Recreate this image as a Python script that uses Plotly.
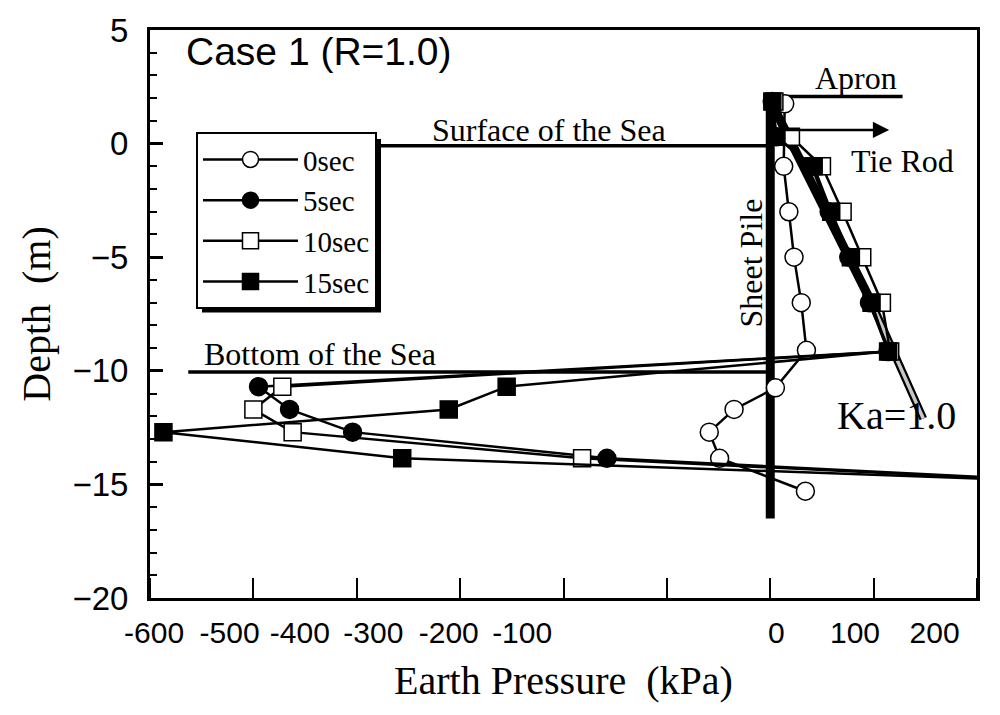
import plotly.graph_objects as go

# ---------------- data ----------------
depth_0sec = [1.75, -1.0, -3.0, -5.0, -7.0, -9.1, -10.75, -11.7, -12.7, -13.85, -15.3]
pressure_0sec = [14, 13, 18, 23, 30, 35, 5, -35, -59, -49, 34]

depth_levels = [1.85, 0.3, -1.0, -3.0, -5.0, -7.0, -9.15, -10.7, -11.7, -12.7, -13.85, -15.3]
pressure_5sec = [2, 6, 40, 57, 76, 96, 114, -495, -465, -404, -158, 480]
pressure_10sec = [4, 20, 50, 70, 89, 108, 116, -472, -500, -462, -182, 470]
pressure_15sec = [2, 6, 42, 59, 78, 98, 114, -255, -311, -587, -356, 555]

ka_pressure = [0, 98, 148]
ka_depth = [1.9, -7.0, -12.1]

pile_pressure = [0, 0]
pile_depth = [2.0, -16.5]
apron_pressure = [0, 128]
apron_depth = [2.07, 2.07]
surface_pressure = [-380, 0]
surface_depth = [-0.1, -0.1]
bottom_pressure = [-563, 0]
bottom_depth = [-10.05, -10.05]

x_tick_label_pos = [-596, -523, -455, -384, -311, -240, 6, 82, 159]
x_tick_text = ["-600", "-500", "-400", "-300", "-200", "-100", "0", "100", "200"]
y_tick_vals = [-20, -15, -10, -5, 0, 5]

SERIF = "Liberation Serif"
SANS = "Liberation Sans"

fig = go.Figure()

# sheet pile
fig.add_trace(go.Scatter(x=pile_pressure, y=pile_depth, mode="lines",
                         line=dict(color="black", width=9), showlegend=False, hoverinfo="skip"))
# Ka line (solid upper part, hatched lower part)
fig.add_trace(go.Scatter(x=ka_pressure[:2], y=ka_depth[:2], mode="lines",
                         line=dict(color="black", width=9), showlegend=False, hoverinfo="skip"))
fig.add_trace(go.Scatter(x=ka_pressure[1:], y=ka_depth[1:], mode="lines",
                         line=dict(color="black", width=8), showlegend=False, hoverinfo="skip"))
fig.add_trace(go.Scatter(x=ka_pressure[1:], y=ka_depth[1:], mode="lines",
                         line=dict(color="#c8c8c8", width=3.5), showlegend=False, hoverinfo="skip"))
# reference lines
for xs, ys in [(apron_pressure, apron_depth), (surface_pressure, surface_depth),
               (bottom_pressure, bottom_depth)]:
    fig.add_trace(go.Scatter(x=xs, y=ys, mode="lines", line=dict(color="black", width=3.5),
                             showlegend=False, hoverinfo="skip"))

series = [
    ("0sec", pressure_0sec, depth_0sec, "circle", "white"),
    ("5sec", pressure_5sec, depth_levels, "circle", "black"),
    ("10sec", pressure_10sec, depth_levels, "square", "white"),
    ("15sec", pressure_15sec, depth_levels, "square", "black"),
]
for name, xs, ys, sym, fill in series:
    fig.add_trace(go.Scatter(
        x=xs, y=ys, name=name, mode="lines+markers",
        line=dict(color="black", width=2.5),
        marker=dict(symbol=sym, size=18 if sym == "circle" else 17, color=fill,
                    line=dict(color="black", width=1.5)),
    ))

ann_font = dict(family=SERIF, size=32, color="black")
annotations = [
    dict(x=-567, y=4.05, text="Case 1 (R=1.0)", xanchor="left", yanchor="middle",
         font=dict(family=SANS, size=39, color="black")),
    dict(x=83, y=2.9, text="Apron", font=ann_font),
    dict(x=-214, y=0.6, text="Surface of the Sea", font=ann_font),
    dict(x=128, y=-0.76, text="Tie Rod", font=ann_font),
    dict(x=-19, y=-5.25, text="Sheet Pile", textangle=-90, font=ann_font),
    dict(x=-436, y=-9.27, text="Bottom of the Sea", font=ann_font),
    dict(x=122, y=-11.97, text="Ka=1.0", font=dict(family=SERIF, size=40, color="black")),
]
for a in annotations:
    a.update(xref="x", yref="y", showarrow=False)
    fig.add_annotation(**a)

# tie rod arrow
fig.add_annotation(x=115, y=0.6, ax=12, ay=0.6, xref="x", yref="y", axref="x", ayref="y",
                   text="", showarrow=True, arrowhead=2, arrowsize=1.3, arrowwidth=2.5,
                   arrowcolor="black")

# legend drop shadow
fig.add_shape(type="rect", xref="paper", yref="paper",
              x0=(202 - 150) / 827, x1=(381 - 150) / 827,
              y0=(598 - 310) / 573, y1=(598 - 135) / 573,
              fillcolor="black", line=dict(width=0), layer="above")

fig.update_layout(
    width=1000, height=715,
    margin=dict(l=150, r=23, t=25, b=117),
    paper_bgcolor="white", plot_bgcolor="white",
    showlegend=True,
    legend=dict(x=(196 - 150) / 827, y=(598 - 128) / 573, xanchor="left", yanchor="top",
                bgcolor="white", bordercolor="black", borderwidth=2,
                font=dict(family=SERIF, size=29, color="black"),
                itemwidth=95, tracegroupgap=0),
    xaxis=dict(range=[-600, 200], tickmode="array", tickvals=x_tick_label_pos,
               ticktext=x_tick_text, ticks="", showgrid=False, zeroline=False,
               showline=True, linecolor="black", linewidth=3, mirror=True,
               tickfont=dict(family=SANS, size=30, color="black"),
               ticklabelstandoff=6,
               minor=dict(tickmode="linear", tick0=0, dtick=100, ticks="inside",
                          ticklen=20, tickwidth=2, tickcolor="black", showgrid=False),
               title=dict(text="Earth Pressure  (kPa)",
                          font=dict(family=SERIF, size=40, color="black"), standoff=18)),
    yaxis=dict(range=[-20, 5], tickmode="array", tickvals=y_tick_vals,
               ticks="inside", ticklen=13, tickwidth=2.5, tickcolor="black",
               showgrid=False, zeroline=False,
               showline=True, linecolor="black", linewidth=3, mirror=True,
               tickfont=dict(family=SANS, size=33, color="black"),
               ticklabelstandoff=12,
               minor=dict(dtick=1, ticks="inside", ticklen=7, tickwidth=2,
                          tickcolor="black", showgrid=False),
               title=dict(text="Depth  (m)",
                          font=dict(family=SERIF, size=40, color="black"), standoff=10)),
)

fig.write_html("out.html")
